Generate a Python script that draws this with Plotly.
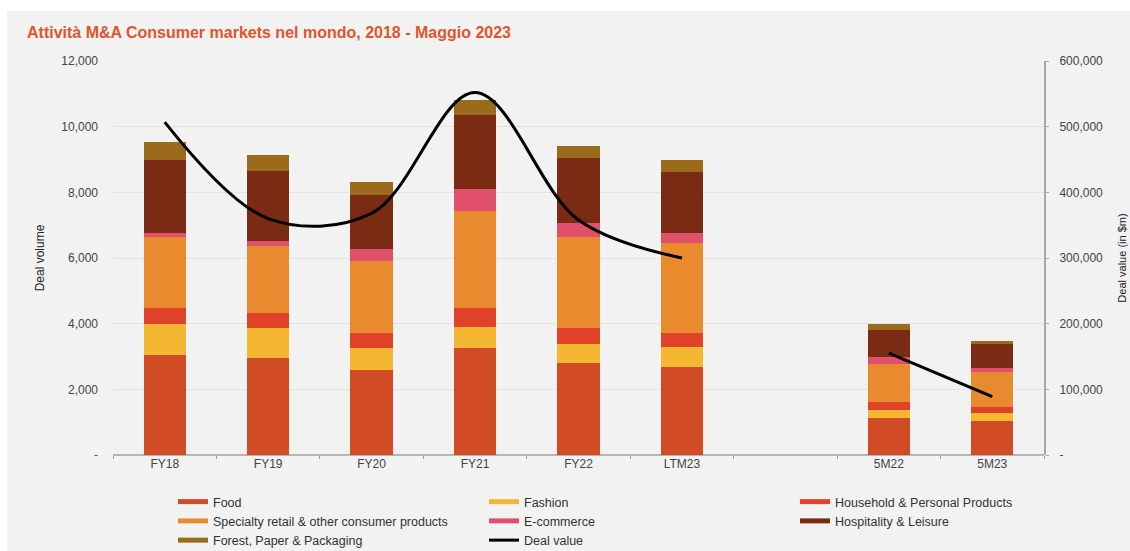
import plotly.graph_objects as go

categories = ["FY18", "FY19", "FY20", "FY21", "FY22", "LTM23", " ", "5M22", "5M23"]

food = [3050, 2960, 2590, 3250, 2790, 2690, None, 1120, 1045]
fashion = [940, 915, 660, 660, 580, 610, None, 250, 225]
household = [490, 440, 460, 580, 490, 410, None, 235, 185]
specialty = [2150, 2060, 2200, 2950, 2790, 2740, None, 1160, 1065]
ecommerce = [140, 150, 370, 650, 430, 325, None, 210, 120]
hospitality = [2230, 2120, 1645, 2265, 1960, 1830, None, 830, 730]
forest = [530, 480, 375, 455, 375, 365, None, 175, 100]
deal_value = [507000, 360000, 368000, 552000, 358000, 300000, None, 155000, 89000]

left_ticks = [0, 2000, 4000, 6000, 8000, 10000, 12000]
left_ticktext = ["-", "2,000", "4,000", "6,000", "8,000", "10,000", "12,000"]
right_ticks = [0, 100000, 200000, 300000, 400000, 500000, 600000]
right_ticktext = ["-", "100,000", "200,000", "300,000", "400,000", "500,000", "600,000"]

series = [
    ("Food", food, "#d14b24"),
    ("Fashion", fashion, "#f5b731"),
    ("Household & Personal Products", household, "#e2412a"),
    ("Specialty retail & other consumer products", specialty, "#ea8a2e"),
    ("E-commerce", ecommerce, "#e0506a"),
    ("Hospitality & Leisure", hospitality, "#7b2a13"),
    ("Forest, Paper & Packaging", forest, "#9a6b1a"),
]

fig = go.Figure()
for name, vals, col in series:
    fig.add_trace(go.Bar(x=categories, y=vals, name=name, marker=dict(color=col, line=dict(width=0)),
                         showlegend=False, yaxis="y"))

fig.add_trace(go.Scatter(x=categories, y=deal_value, name="Deal value", mode="lines",
                         line=dict(color="#000000", width=3, shape="spline", smoothing=1.0),
                         connectgaps=False, yaxis="y2", showlegend=False))

# legend entries (line swatches)
for name, vals, col in series:
    fig.add_trace(go.Scatter(x=[None], y=[None], mode="lines", name=name,
                             line=dict(color=col, width=5), showlegend=True))
fig.add_trace(go.Scatter(x=[None], y=[None], mode="lines", name="Deal value",
                         line=dict(color="#000000", width=3), showlegend=True))

bg = "#f2f2f2"
L, R, T, B = 113, 86, 61, 96
PW, PH = 1130 - L - R, 551 - T - B

fig.update_layout(
    width=1130, height=551,
    barmode="stack", bargap=0.59,
    paper_bgcolor=bg, plot_bgcolor=bg,
    margin=dict(l=L, r=R, t=T, b=B, autoexpand=False),
    font=dict(family="Liberation Sans, Arial, sans-serif", size=12, color="#444444"),
    title=dict(text="<b>Attività M&A Consumer markets nel mondo, 2018 - Maggio 2023</b>",
               x=27 / 1130, xanchor="left", y=1 - 32 / 551, yanchor="middle",
               font=dict(size=16, color="#e0552c")),
    xaxis=dict(type="category", categoryorder="array", categoryarray=categories,
               tickson="boundaries", ticks="outside", ticklen=3, tickcolor="#999999",
               showgrid=False, showline=False, tickfont=dict(size=12, color="#444444")),
    yaxis=dict(range=[0, 12000], tickvals=left_ticks, ticktext=left_ticktext,
               showgrid=True, gridcolor="#e3e3e3", gridwidth=1,
               zeroline=True, zerolinecolor="#b5b5b5", zerolinewidth=2,
               title=dict(text="Deal volume", font=dict(size=12, color="#222222"), standoff=14),
               ticks="", tickfont=dict(size=12, color="#444444"), ticklabelstandoff=14),
    yaxis2=dict(range=[0, 600000], overlaying="y", side="right",
                tickvals=right_ticks, ticktext=right_ticktext, showgrid=False, zeroline=False,
                showline=True, linecolor="#a8a8a8", linewidth=2,
                ticks="outside", ticklen=3, tickcolor="#a8a8a8", ticklabelstandoff=8,
                title=dict(text="Deal value (in $m)", font=dict(size=11, color="#222222"), standoff=16),
                tickfont=dict(size=12, color="#444444")),
    legend=dict(orientation="h", xref="container", yref="container",
                x=173 / 1130, xanchor="left", y=1 - 487 / 551, yanchor="top",
                entrywidth=266, entrywidthmode="pixels", traceorder="normal",
                font=dict(size=12.5, color="#333333"), bgcolor="rgba(0,0,0,0)"),
    shapes=[
        dict(type="rect", xref="paper", yref="paper", x0=-L / PW - 0.01, x1=(1130 - L) / PW + 0.01,
             y0=1 + (T - 11) / PH, y1=1 + T / PH + 0.01, fillcolor="#ffffff", line=dict(width=0), layer="below"),
        dict(type="rect", xref="paper", yref="paper", x0=-L / PW - 0.01, x1=(7 - L) / PW,
             y0=-B / PH - 0.01, y1=1 + T / PH + 0.01, fillcolor="#ffffff", line=dict(width=0), layer="below"),
    ],
)

fig.write_html("out.html")
